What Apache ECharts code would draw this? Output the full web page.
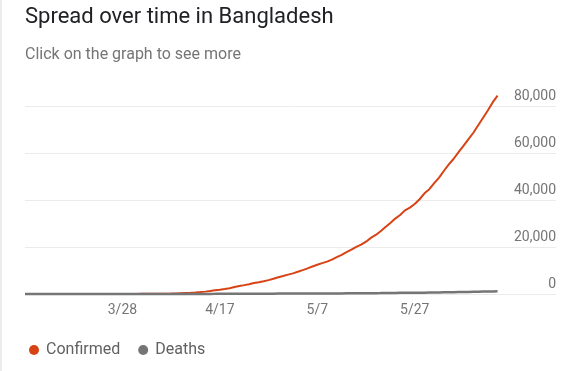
<!DOCTYPE html>
<html>
<head>
<meta charset="utf-8">
<script src="https://cdn.jsdelivr.net/npm/echarts@6/dist/echarts.min.js"></script>
<style>
html,body{margin:0;padding:0;background:#fff;}
#chart{width:580px;height:371px;}
</style>
</head>
<body>
<div id="chart"></div>
<script>
var titleText = 'Spread over time in Bangladesh';
var subtitleText = 'Click on the graph to see more';
var seriesNames = ['Confirmed', 'Deaths'];
var dates = ['3/8','3/9','3/10','3/11','3/12','3/13','3/14','3/15','3/16','3/17','3/18','3/19','3/20','3/21','3/22','3/23','3/24','3/25','3/26','3/27','3/28','3/29','3/30','3/31','4/1','4/2','4/3','4/4','4/5','4/6','4/7','4/8','4/9','4/10','4/11','4/12','4/13','4/14','4/15','4/16','4/17','4/18','4/19','4/20','4/21','4/22','4/23','4/24','4/25','4/26','4/27','4/28','4/29','4/30','5/1','5/2','5/3','5/4','5/5','5/6','5/7','5/8','5/9','5/10','5/11','5/12','5/13','5/14','5/15','5/16','5/17','5/18','5/19','5/20','5/21','5/22','5/23','5/24','5/25','5/26','5/27','5/28','5/29','5/30','5/31','6/1','6/2','6/3','6/4','6/5','6/6','6/7','6/8','6/9','6/10','6/11','6/12','6/13'];
var confirmed = [3,3,3,3,3,3,3,5,8,10,14,17,20,25,27,33,39,39,44,48,48,48,49,51,54,56,61,70,88,123,164,218,330,424,482,621,803,1012,1231,1572,1838,2144,2456,2948,3382,3772,4186,4689,4998,5416,5913,6462,7103,7667,8238,8790,9455,10143,10929,11719,12425,13134,13770,14657,15691,16660,17822,18863,20065,20995,22268,23870,25121,26738,28511,30205,32078,33610,35585,36751,38292,40321,42844,44608,47153,49534,52445,55140,57563,60391,63026,65769,68504,71675,74865,78052,81523,84379];
var deaths = [0,0,0,0,0,0,0,0,0,0,1,1,1,2,2,3,4,5,5,5,5,5,5,6,6,6,6,8,9,12,17,20,21,27,30,34,39,46,50,60,75,84,91,101,110,120,127,131,140,145,152,155,163,168,170,175,177,182,183,186,199,206,214,228,239,250,269,283,298,314,328,349,370,386,408,432,452,480,501,522,522,544,559,610,650,672,709,746,781,811,846,888,930,975,1012,1049,1095,1139];
var yTicks = [0, 20000, 40000, 60000, 80000];

function pairs(arr){ return arr.map(function(v,i){ return [i, v]; }); }

var chart = echarts.init(document.getElementById('chart'), null, {renderer:'canvas'});
var font = 'Roboto, "Noto Sans", sans-serif';
chart.setOption({
  animation: false,
  backgroundColor: '#fff',
  textStyle: {fontFamily: font},
  title: [
    {text: titleText, left: 25, top: 6, padding: 0,
     textStyle: {fontSize: 22, fontWeight: 'normal', color: '#202124', fontFamily: font}},
    {text: subtitleText, left: 25, top: 47, padding: 0,
     textStyle: {fontSize: 16, fontWeight: 'normal', color: '#757575', fontFamily: font}}
  ],
  graphic: [{type: 'rect', left: 0, top: 0, shape: {width: 2, height: 371}, style: {fill: '#ececec'}, silent: true}],
  legend: {
    left: 24, top: 337, icon: 'circle', itemWidth: 10, itemHeight: 10, itemGap: 18,
    textStyle: {fontSize: 16, color: '#616161', fontFamily: font, padding: [0,0,0,2]},
    data: seriesNames
  },
  grid: {left: 25, right: 24, top: 106, bottom: 77, containLabel: false},
  xAxis: {
    type: 'value', min: 0, max: 109, interval: 20,
    axisLine: {show: false}, axisTick: {show: false}, splitLine: {show: false},
    axisLabel: {
      margin: 9, fontSize: 14, color: '#757575', fontFamily: font,
      formatter: function(v){ return (v > 0 && v < dates.length) ? dates[v] : ''; }
    }
  },
  yAxis: {
    type: 'value', position: 'right', min: yTicks[0], max: yTicks[yTicks.length-1], interval: yTicks[1]-yTicks[0],
    axisLine: {show: false}, axisTick: {show: false},
    splitLine: {lineStyle: {color: '#ebebeb', width: 1}},
    axisLabel: {
      inside: true, margin: 0, fontSize: 14, color: '#757575', fontFamily: font,
      verticalAlign: 'bottom', padding: [0,0,3,0],
      formatter: function(v){ return v.toLocaleString('en-US'); }
    }
  },
  series: [
    {name: seriesNames[0], type: 'line', data: pairs(confirmed), showSymbol: false, clip: false,
     itemStyle: {color: '#d84315'}, lineStyle: {color: '#d84315', width: 2}},
    {name: seriesNames[1], type: 'line', data: pairs(deaths), showSymbol: false, clip: false,
     itemStyle: {color: '#757575'}, lineStyle: {color: '#757575', width: 2.5}}
  ]
});
</script>
</body>
</html>
